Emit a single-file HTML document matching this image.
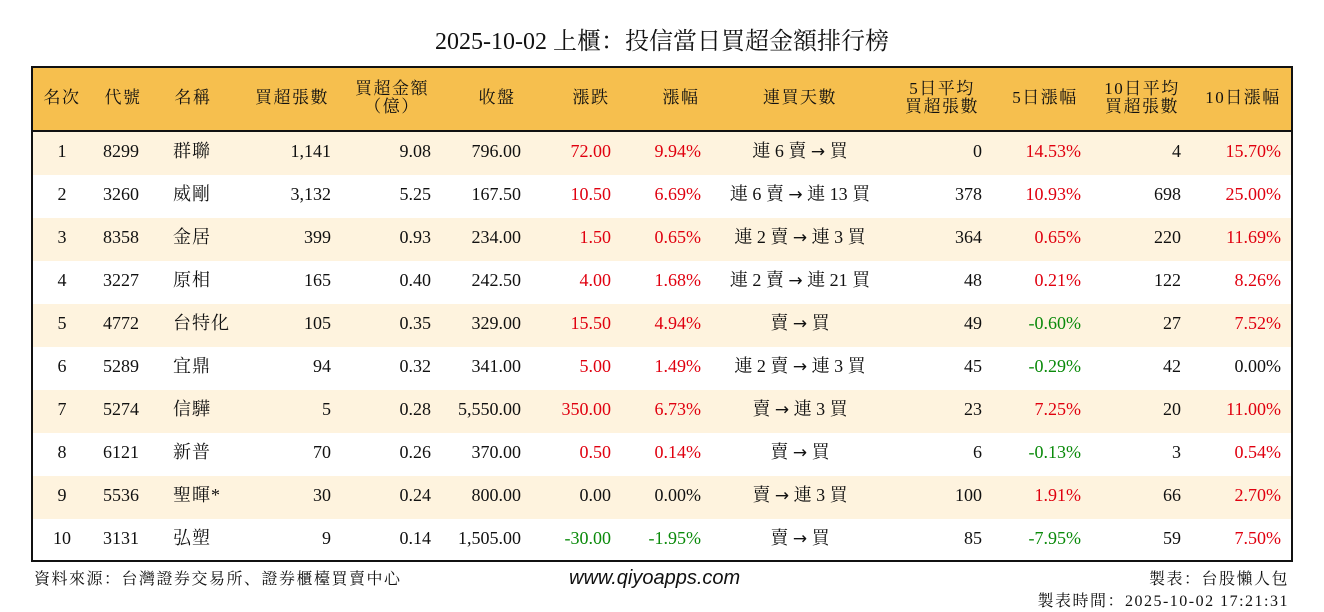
<!DOCTYPE html>
<html><head><meta charset="utf-8"><style>
body{margin:0;width:1324px;height:612px;background:#fff;position:relative;overflow:hidden;font-family:"Liberation Serif","Noto Serif CJK SC","Noto Serif CJK TC",serif;color:#111}
.t{position:absolute;white-space:nowrap}
.title{left:0;width:1324px;text-align:center;top:28px;font-size:24px;line-height:28px}
.box{position:absolute;left:31px;top:66px;width:1258px;height:492px;border:2px solid #111}
.hdr{position:absolute;left:0;top:0;width:1258px;height:62px;background:#F6BF4E;border-bottom:2px solid #111}
.row{position:absolute;left:0;width:1258px;height:43px}
.c{background:#FEF3DE}
.h{font-size:17px;letter-spacing:1.5px;line-height:18px;text-align:center}
.d{font-size:18px;line-height:20px}
.r{color:#e0000f}.g{color:#0a8a0a}
.foot{font-size:16px;letter-spacing:1.5px}
</style></head><body>
<div class="t title">2025-10-02 上櫃：投信當日買超金額排行榜</div>
<div class="box">
<div class="hdr"></div>
<div id="rows"></div>
</div>
<div id="content"></div>
<div class="t foot" style="left:34px;top:566px">資料來源：台灣證券交易所、證券櫃檯買賣中心</div>
<div class="t" style="left:569px;top:567px;font-family:'Liberation Sans',sans-serif;font-style:italic;font-size:20px">www.qiyoapps.com</div>
<div class="t foot" style="right:35px;top:566px">製表：台股懶人包</div>
<div class="t foot" style="right:35px;top:588px">製表時間：2025-10-02 17:21:31</div>
<script>
var H=[["名次",62,"c",1],["代號",123,"c",1],["名稱",193,"c",1],["買超張數",292,"c",1],["買超金額<br>（億）",392,"c",2],["收盤",497,"c",1],["漲跌",591,"c",1],["漲幅",681,"c",1],["連買天數",800,"c",1],["5日平均<br>買超張數",942,"c",2],["5日漲幅",1045,"c",1],["10日平均<br>買超張數",1142,"c",2],["10日漲幅",1243,"c",1]];
var s="";
H.forEach(function(h){var top=h[3]==2?80:89;s+='<div class="t h" style="left:'+(h[1]-70)+'px;width:140px;top:'+top+'px">'+h[0]+'</div>';});
var D=[
["1","8299","群聯","1,141","9.08","796.00","72.00","9.94%","連 6 賣 → 買","0","14.53%","4","15.70%","rrrr"],
["2","3260","威剛","3,132","5.25","167.50","10.50","6.69%","連 6 賣 → 連 13 買","378","10.93%","698","25.00%","rrrr"],
["3","8358","金居","399","0.93","234.00","1.50","0.65%","連 2 賣 → 連 3 買","364","0.65%","220","11.69%","rrrr"],
["4","3227","原相","165","0.40","242.50","4.00","1.68%","連 2 賣 → 連 21 買","48","0.21%","122","8.26%","rrrr"],
["5","4772","台特化","105","0.35","329.00","15.50","4.94%","賣 → 買","49","-0.60%","27","7.52%","rrgr"],
["6","5289","宜鼎","94","0.32","341.00","5.00","1.49%","連 2 賣 → 連 3 買","45","-0.29%","42","0.00%","rrgk"],
["7","5274","信驊","5","0.28","5,550.00","350.00","6.73%","賣 → 連 3 買","23","7.25%","20","11.00%","rrrr"],
["8","6121","新普","70","0.26","370.00","0.50","0.14%","賣 → 買","6","-0.13%","3","0.54%","rrgr"],
["9","5536","聖暉*","30","0.24","800.00","0.00","0.00%","賣 → 連 3 買","100","1.91%","66","2.70%","kkrr"],
["10","3131","弘塑","9","0.14","1,505.00","-30.00","-1.95%","賣 → 買","85","-7.95%","59","7.50%","gggr"]];
var rows="";
D.forEach(function(d,i){
 var y=130+i*43;
 rows+='<div class="row'+(i%2==0?' c':'')+'" style="top:'+(64+i*43)+'px"></div>';
 var cy=y+11;
 function cls(k){return k=='r'?'r':k=='g'?'g':'';}
 var col=d[13];
 s+='<div class="t d" style="left:32px;width:60px;text-align:center;top:'+cy+'px">'+d[0]+'</div>';
 s+='<div class="t d" style="left:103px;top:'+cy+'px">'+d[1]+'</div>';
 s+='<div class="t d" style="left:173px;top:'+cy+'px;letter-spacing:1px">'+d[2]+'</div>';
 var R=[[3,331,''],[4,431,''],[5,521,''],[6,611,cls(col[0])],[7,701,cls(col[1])],[9,982,''],[10,1081,cls(col[2])],[11,1181,''],[12,1281,cls(col[3])]];
 R.forEach(function(r){s+='<div class="t d '+r[2]+'" style="right:'+(1324-r[1])+'px;top:'+cy+'px">'+d[r[0]]+'</div>';});
 var txt=d[8].replace('→','<span style="font-family:\'DejaVu Sans\',sans-serif;font-size:17px">→</span>');
 s+='<div class="t d" style="left:700px;width:200px;text-align:center;top:'+cy+'px">'+txt+'</div>';
});
document.getElementById('rows').innerHTML=rows;
document.getElementById('content').innerHTML=s;
</script>
</body></html>
